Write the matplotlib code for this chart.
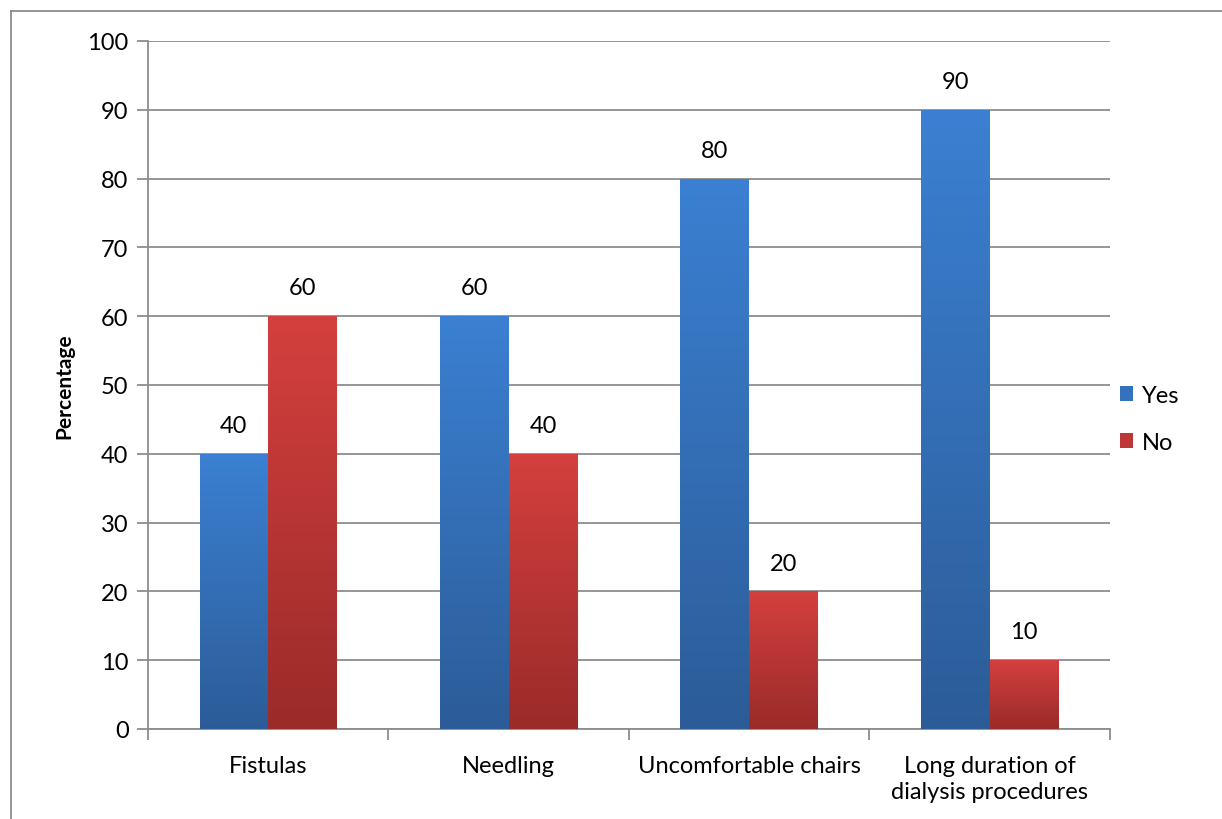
import numpy as np
import matplotlib
matplotlib.use('Agg')
import matplotlib.pyplot as plt
from matplotlib.colors import LinearSegmentedColormap
from matplotlib.patches import Patch
from matplotlib.lines import Line2D

plt.rcParams['font.family'] = ['Lato', 'DejaVu Sans']

categories = ['Fistulas', 'Needling', 'Uncomfortable chairs',
              'Long duration of\ndialysis procedures']
yes_vals = [40, 60, 80, 90]
no_vals = [60, 40, 20, 10]
series_names = ['Yes', 'No']

blue_map = LinearSegmentedColormap.from_list('blue', ['#2c5c98', '#3b80d2'])
red_map = LinearSegmentedColormap.from_list('red', ['#9a2b29', '#d4403e'])

fs = 17

fig = plt.figure(figsize=(12.22, 8.2), dpi=100)
ax = fig.add_axes([0.1211, 0.1098, 0.7872, 0.839])

# outer chart border
fig.add_artist(Line2D([10.5 / 1222, 10.5 / 1222], [0, 1 - 12 / 820],
                      transform=fig.transFigure, color='#8c8c8c', lw=1.3))
fig.add_artist(Line2D([10.5 / 1222, 1], [1 - 12 / 820, 1 - 12 / 820],
                      transform=fig.transFigure, color='#8c8c8c', lw=1.3))

x = np.arange(len(categories))
w = 1 / 3.5

grad = np.linspace(0, 1, 256).reshape(-1, 1)

def gradient_bars(xpos, vals, cmap):
    bars = ax.bar(xpos, vals, w, color='none', edgecolor='none', zorder=3)
    for b in bars:
        x0, y0 = b.get_x(), b.get_y()
        im = ax.imshow(grad, cmap=cmap, origin='lower', aspect='auto',
                       extent=[x0, x0 + b.get_width(), y0, y0 + b.get_height()],
                       zorder=3)
        im.set_clip_path(b)
    return bars

gradient_bars(x - w / 2, yes_vals, blue_map)
gradient_bars(x + w / 2, no_vals, red_map)

for xi, v in zip(x - w / 2, yes_vals):
    ax.text(xi, v + 4.1, str(v), ha='center', va='center', fontsize=fs)
for xi, v in zip(x + w / 2, no_vals):
    ax.text(xi, v + 4.1, str(v), ha='center', va='center', fontsize=fs)

ax.set_xlim(-0.5, len(categories) - 0.5)
ax.set_ylim(0, 100)
ax.set_yticks(range(0, 101, 10))
ax.tick_params(axis='y', labelsize=fs, length=8, width=1.3, color='#8c8c8c', pad=6)

ax.set_xticks(x)
ax.set_xticklabels(categories, fontsize=fs, linespacing=1.3)
ax.tick_params(axis='x', length=0, pad=19)
ax.set_xticks(np.arange(-0.5, len(categories), 1), minor=True)
ax.tick_params(axis='x', which='minor', length=8, width=1.3, color='#8c8c8c')

ax.grid(axis='y', color='#8c8c8c', lw=1.3, zorder=0)
ax.set_axisbelow(True)
for s in ['top', 'right']:
    ax.spines[s].set_visible(False)
for s in ['left', 'bottom']:
    ax.spines[s].set_color('#8c8c8c')
    ax.spines[s].set_linewidth(1.3)

ax.set_ylabel('Percentage', fontsize=15, fontweight='bold', labelpad=9)

handles = [Patch(facecolor='#3572bd', label=series_names[0]),
           Patch(facecolor='#bf3735', label=series_names[1])]
fig.legend(handles=handles, loc='center left', bbox_to_anchor=(0.8995, 0.488),
           frameon=False, fontsize=fs, handlelength=0.55, handleheight=0.55,
           handletextpad=0.35, labelspacing=1.1)

fig.savefig('out.png', dpi=100)
